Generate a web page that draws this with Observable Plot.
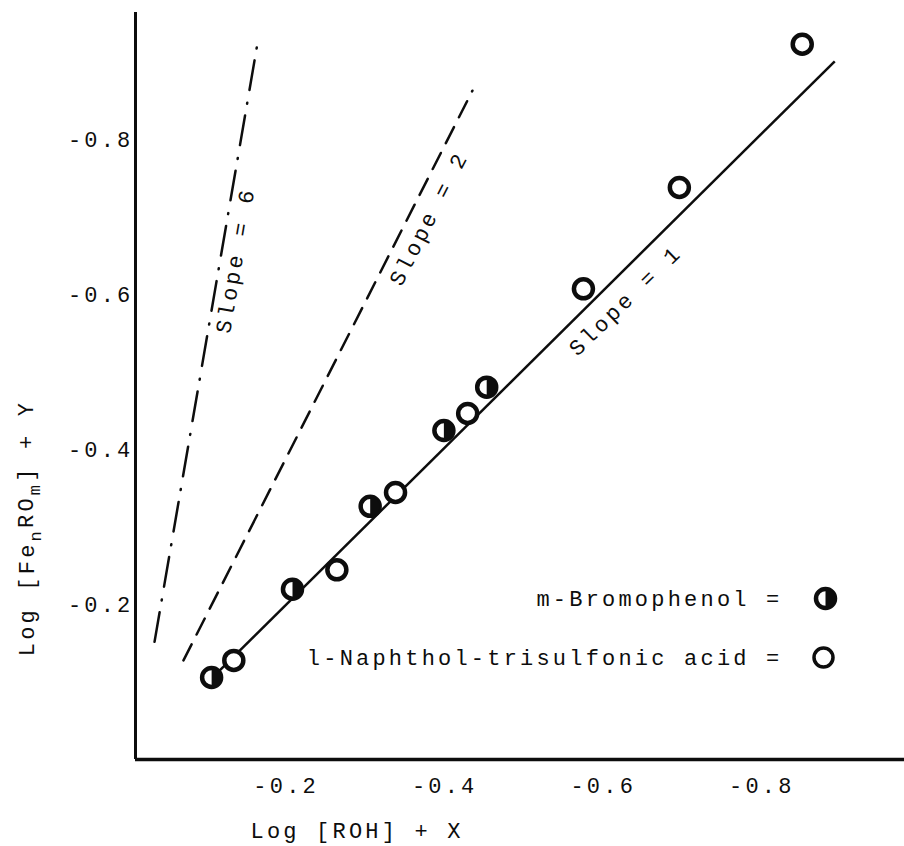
<!DOCTYPE html>
<html>
<head>
<meta charset="utf-8">
<script src="https://cdn.jsdelivr.net/npm/d3@7"></script>
<script src="https://cdn.jsdelivr.net/npm/@observablehq/plot@0.6"></script>
<style>
  html, body { margin: 0; padding: 0; background: #fff; }
  #chart svg text { letter-spacing: 3.2px; }
</style>
</head>
<body>
<div id="chart"></div>
<script>
// ---- data ----
const bromoX = [-0.106, -0.208, -0.306, -0.399, -0.453];
const bromoY = [-0.106, -0.220, -0.327, -0.425, -0.481];
const naphX  = [-0.134, -0.264, -0.338, -0.429, -0.575, -0.696, -0.851];
const naphY  = [-0.128, -0.245, -0.345, -0.447, -0.608, -0.739, -0.924];

const slopeNames  = ["Slope = 6", "Slope = 2", "Slope = 1"];
const slopeValues = [6, 2, 1];
const lineStartX  = [-0.034, -0.0705, -0.101];
const lineStartY  = [-0.152, -0.128, -0.0995];
const lineEndX    = [-0.163, -0.435, -0.892];
const lineEndY    = [-0.920, -0.864, -0.902];
const labelX      = [-0.136, -0.380, -0.628];
const labelY      = [-0.645, -0.699, -0.593];

const xTicks = [-0.2, -0.4, -0.6, -0.8];
const yTicks = [-0.2, -0.4, -0.6, -0.8];
const legendLabels = ["m-Bromophenol =", "l-Naphthol-trisulfonic acid ="];
const xLabel = "Log [ROH] + X";
const yLabelParts = [["Log [Fe", false], ["n", true], ["RO", false], ["m", true], ["] + Y", false]];

// ---- layout ----
const W = 904, H = 846;
const mL = 135, mR = 0, mT = 12, mB = 87;
const xDomain = [-0.01, -0.98];
const yDomain = [0, -0.965];
const ink = "#0d0d0d";
const R = 9.5;

const bromo = bromoX.map((x, i) => ({x, y: bromoY[i]}));
const naph = naphX.map((x, i) => ({x, y: naphY[i]}));
const idx = slopeValues.map((_, i) => i);

// pixel angle of a line with the given data slope
const pxPerX = (W - mL - mR) / Math.abs(xDomain[1] - xDomain[0]);
const pxPerY = (H - mT - mB) / Math.abs(yDomain[1] - yDomain[0]);
const angle = k => -Math.atan(k * pxPerY / pxPerX) * 180 / Math.PI;

const rightHalf = {
  draw(context, size) {
    const r = Math.sqrt(size / Math.PI);
    context.moveTo(0, -r);
    context.arc(0, 0, r, -Math.PI / 2, Math.PI / 2);
    context.closePath();
  }
};

const dashes = ["30,12,1,13", "18,11", null];

const marks = [
  Plot.ruleX([xDomain[0]], {stroke: ink, strokeWidth: 3}),
  Plot.ruleY([0], {stroke: ink, strokeWidth: 3.5}),
  ...idx.map(i => Plot.link([i], {
    x1: () => lineStartX[i], y1: () => lineStartY[i],
    x2: () => lineEndX[i], y2: () => lineEndY[i],
    stroke: ink, strokeWidth: 2.5,
    strokeDasharray: dashes[i] ?? undefined,
    strokeLinecap: dashes[i] ? "round" : "butt"
  })),
  Plot.text(idx, {
    x: i => labelX[i], y: i => labelY[i], text: i => slopeNames[i],
    rotate: i => angle(slopeValues[i]),
    textAnchor: "middle", lineAnchor: "middle", fill: ink
  }),
  Plot.dot(naph, {x: "x", y: "y", r: R, stroke: ink, strokeWidth: 4.5, fill: "white"}),
  Plot.dot(bromo, {x: "x", y: "y", r: R, stroke: ink, strokeWidth: 4.5, fill: "white"}),
  Plot.dot(bromo, {x: "x", y: "y", r: R, symbol: rightHalf, fill: ink}),
  // x-axis title
  Plot.text([xLabel], {frameAnchor: "bottom-left", dx: 115, dy: 71, textAnchor: "start", lineAnchor: "middle", fill: ink}),
  // legend
  Plot.text([legendLabels[0]], {frameAnchor: "bottom-right", dx: -122, dy: -161, textAnchor: "end", lineAnchor: "middle", fill: ink}),
  Plot.text([legendLabels[1]], {frameAnchor: "bottom-right", dx: -122, dy: -102, textAnchor: "end", lineAnchor: "middle", fill: ink}),
  Plot.dot([0], {frameAnchor: "bottom-right", dx: -79, dy: -161, r: R, stroke: ink, strokeWidth: 4.5, fill: "white"}),
  Plot.dot([0], {frameAnchor: "bottom-right", dx: -79, dy: -161, r: R, symbol: rightHalf, fill: ink}),
  Plot.dot([0], {frameAnchor: "bottom-right", dx: -81, dy: -102, r: R, stroke: ink, strokeWidth: 3.5, fill: "white"})
];

const svg = Plot.plot({
  width: W, height: H,
  marginLeft: mL, marginRight: mR, marginTop: mT, marginBottom: mB,
  style: {fontFamily: "'Liberation Mono', 'DejaVu Sans Mono', monospace", fontSize: "22px", color: ink, background: "#fff"},
  x: {domain: xDomain, ticks: xTicks, tickFormat: d => d.toFixed(1), tickSize: 0, tickPadding: 18, label: null},
  y: {domain: yDomain, ticks: yTicks, tickFormat: d => d.toFixed(1), tickSize: 0, tickPadding: 2, label: null},
  marks
});

// y-axis title with subscripts
const yt = d3.select(svg).append("text")
  .attr("transform", "translate(26,528) rotate(-90)")
  .attr("text-anchor", "middle")
  .attr("fill", ink)
  .attr("dy", "0.35em");
let shifted = false;
for (const [s, sub] of yLabelParts) {
  const ts = yt.append("tspan").text(s);
  if (sub && !shifted) { ts.attr("dy", "0.4em").attr("font-size", "17px"); shifted = true; }
  else if (!sub && shifted) { ts.attr("dy", "-0.32em"); shifted = false; }
  else if (sub) { ts.attr("font-size", "17px"); }
}

document.getElementById("chart").append(svg);
</script>
</body>
</html>
